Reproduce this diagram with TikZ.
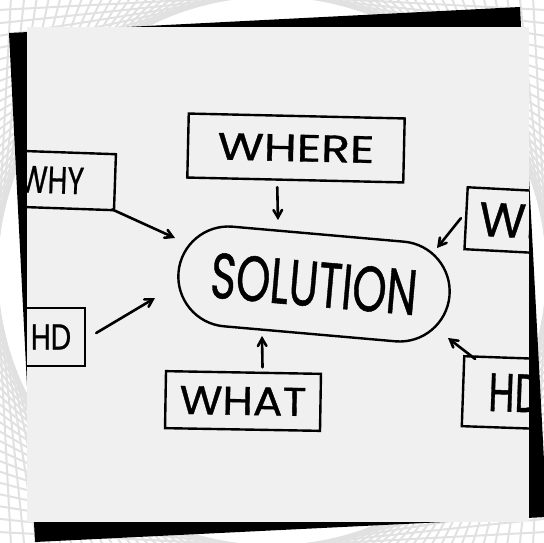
\documentclass[tikz,border=0pt]{standalone}
\usepackage{fontspec}
\setmainfont[FakeBold=0.8]{Poppins}
\usetikzlibrary{shapes.misc, arrows}
\definecolor{paper}{HTML}{F0F0F0}
\definecolor{stripe}{HTML}{E1E1E1}
\tikzstyle{idea} = [rectangle, text centered, draw=black, line width=2.4pt, inner sep=0pt]
\tikzstyle{core} = [rounded rectangle, text centered, draw=black, line width=2.4pt, inner sep=0pt]
\tikzstyle{arrow} = [line width=2.6pt, line cap=round, ->, >=angle 60]

\begin{document}
\begin{tikzpicture}[x=1pt,y=-1pt]
    \useasboundingbox (0,0) rectangle (544,543);

    % backdrop stripes
    \begin{scope}
        \clip (0,0) rectangle (544,543);
        \foreach \a in {0,3,...,87}
            \draw[stripe, line width=2pt, rotate around={\a:(272,271)}] (272-275,271-275) rectangle (272+275,271+275);
    \end{scope}

    % photo frame and paper
    \fill[black] (9,33) -- (520,7) -- (547,517) -- (35,542) -- cycle;
    \fill[paper] (27,27) rectangle (529,522);

    \begin{scope}
        \clip (27,27) rectangle (529,522);

        % Nodes
        \node[idea, minimum width=216pt, minimum height=64pt, rotate=-1.3, font=\fontsize{38}{38}\selectfont] (where) at (296,148) {\scalebox{1.25}[1]{WHERE}};
        \node[core, minimum width=272pt, minimum height=100pt, rotate=-5, font=\fontsize{64}{64}\selectfont] (solution) at (314,284) {\scalebox{0.68}[1]{SOLUTION}\hspace{24pt}};
        \node[idea, minimum width=155pt, minimum height=57pt, rotate=-1, font=\fontsize{40}{40}\selectfont] (what) at (243,401) {\scalebox{1.1}[1]{WHAT}};
        \node[idea, minimum width=126pt, minimum height=56pt, rotate=-2, font=\fontsize{38}{38}\selectfont] (why) at (52,180) {\scalebox{0.75}[1]{WHY}};
        \node[idea, minimum width=68pt, minimum height=58pt, font=\fontsize{36}{36}\selectfont] (how) at (51,337) {\scalebox{0.8}[1]{HD}};
        \node[idea, minimum width=144pt, minimum height=62pt, rotate=-3, font=\fontsize{48}{48}\selectfont] (who) at (538,222) {WHO};
        \node[idea, minimum width=104pt, minimum height=70pt, rotate=-2, font=\fontsize{54}{54}\selectfont] (hd) at (515,393) {\scalebox{0.7}[1]{HD}};

        % arrow tips near the solution
        \coordinate (tWhere) at (278,220);
        \coordinate (tWhat) at (262,336);
        \coordinate (tWhy) at (175,238);
        \coordinate (tHow) at (155,298);
        \coordinate (tWho) at (437,248);
        \coordinate (tHd) at (448,338);

        % Arrows
        \path[arrow]
        ([xshift=-18pt,yshift=-6pt]where.south) edge (tWhere)
        ([xshift=19pt,yshift=4pt]what.north) edge (tWhat)
        ([xshift=-3pt,yshift=2pt]why.south east) edge (tWhy)
        ([xshift=10pt,yshift=4pt]how.east) edge (tHow)
        ([xshift=-4pt]who.west) edge (tWho)
        ([xshift=12pt,yshift=-4pt]hd.north west) edge (tHd);
    \end{scope}

\end{tikzpicture}
\end{document}
